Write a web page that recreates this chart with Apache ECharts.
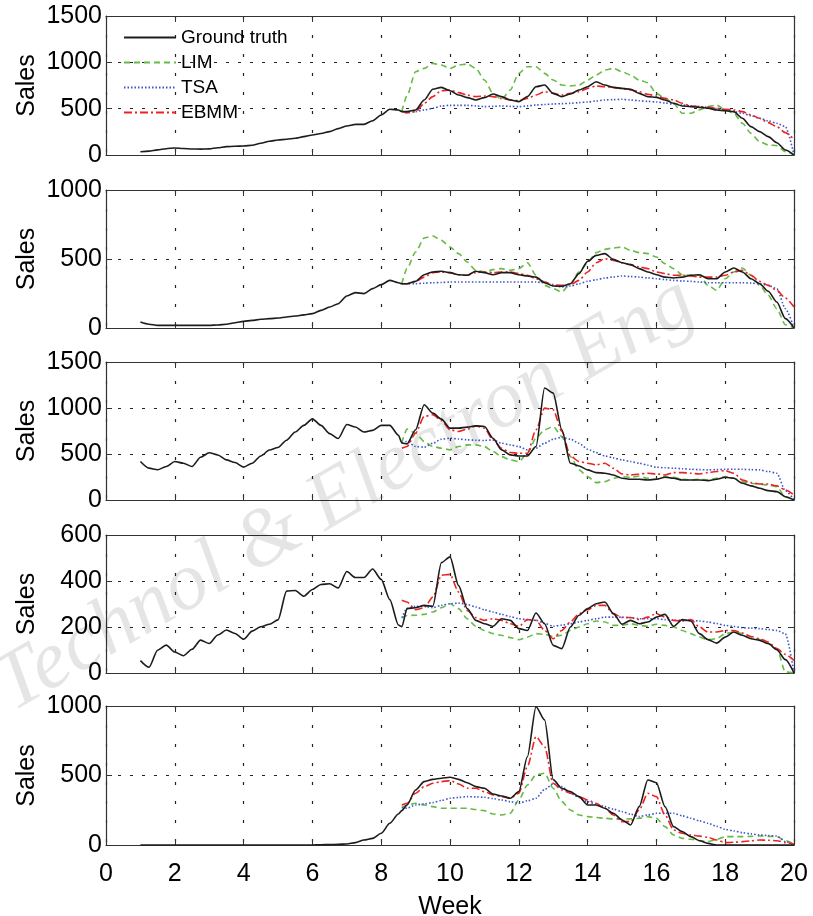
<!DOCTYPE html>
<html style="height: 100%">
<head>
<meta charset="utf-8">
<title>Sales forecast panels</title>
<script src="https://cdn.jsdelivr.net/npm/echarts@6/dist/echarts.min.js"></script>
</head>
<body style="height: 100%; margin: 0; background: #fff">
<div id="target" style="width: 813px; height: 916px"></div>
<script>
// week positions of the ground truth curve and of the forecasts
const weeks = [1, 1.25, 1.5, 1.75, 2, 2.25, 2.5, 2.75, 3, 3.25, 3.5, 3.75, 4, 4.25, 4.5, 4.75,
    5, 5.25, 5.5, 5.75, 6, 6.25, 6.5, 6.75, 7, 7.25, 7.5, 7.75, 8, 8.25, 8.5, 8.6,
    8.75, 9, 9.25, 9.5, 9.75, 10, 10.25, 10.5, 10.75, 11, 11.25, 11.5, 11.75, 12, 12.25, 12.5,
    12.75, 13, 13.25, 13.5, 13.75, 14, 14.25, 14.5, 14.75, 15, 15.25, 15.5, 15.75, 16, 16.25,
    16.5, 16.75, 17, 17.25, 17.5, 17.75, 18, 18.25, 18.5, 18.75, 19, 19.25, 19.5, 19.75, 20];
const predWeeks = weeks.slice(31);   // forecasts start at week 8.6

const legendNames = ["Ground truth", "LIM", "TSA", "EBMM"];

// panel 1
const truth1 = [35, 42, 55, 68, 76, 70, 65, 63, 66, 78, 90, 95, 97, 105, 126, 148, 162, 170, 180, 198,
    216, 232, 252, 285, 313, 330, 331, 370, 432, 493, 486, 470,
    468, 486, 594, 709, 730, 694, 647, 619, 594, 619, 658, 630, 594, 576, 630, 737, 755, 665, 630, 658,
    701, 737, 791, 755, 730, 719, 709, 665, 630, 622, 594, 558, 529, 522, 514, 504, 486, 478, 468, 396,
    306, 252, 198, 133, 54, 0];
const lim1 = [470, 640, 899, 935, 989, 971, 935, 971, 982, 935, 809, 665, 601, 701, 881, 953, 953, 881,
    809, 755, 745, 755, 809, 863, 917, 935, 899, 863, 809, 780, 665, 611, 558, 450, 450, 486, 522, 540,
    486, 450, 342, 234, 144, 108, 101, 36, 0];
const tsa1 = [470, 457, 468, 486, 504, 529, 536, 536, 536, 530, 522, 525, 529, 525, 522, 530, 540, 545,
    550, 554, 558, 565, 572, 583, 594, 598, 601, 594, 586, 579, 572, 561, 550, 540, 529, 522, 514, 500,
    486, 468, 450, 423, 396, 369, 342, 306, 0];
const ebmm1 = [470, 457, 468, 558, 630, 694, 701, 673, 647, 630, 637, 630, 611, 594, 586, 611, 647, 683,
    665, 647, 665, 683, 719, 745, 737, 730, 719, 701, 683, 655, 637, 611, 594, 558, 529, 522, 514, 504,
    493, 486, 468, 432, 396, 349, 306, 241, 169];

// panel 2
const truth2 = [43, 27, 19, 19, 19, 19, 19, 19, 19, 22, 27, 38, 48, 55, 63, 68, 72, 80, 87, 95,
    104, 128, 152, 176, 232, 256, 249, 285, 314, 345, 328, 321,
    321, 338, 386, 406, 411, 401, 386, 382, 411, 401, 386, 401, 401, 386, 377, 369, 328, 304, 302, 321,
    394, 483, 526, 539, 497, 473, 459, 430, 406, 386, 369, 362, 369, 382, 386, 357, 357, 406, 435, 406,
    357, 321, 266, 188, 68, 0];
const lim2 = [321, 430, 551, 652, 667, 635, 587, 539, 478, 418, 406, 423, 430, 418, 430, 473, 382, 309,
    285, 261, 321, 406, 473, 546, 570, 580, 587, 563, 546, 539, 514, 466, 430, 386, 382, 382, 309, 273,
    357, 406, 435, 382, 309, 237, 140, 24, 0];
const tsa2 = [321, 321, 321, 325, 328, 330, 333, 333, 333, 333, 333, 333, 333, 333, 333, 333, 333, 328,
    309, 297, 304, 321, 338, 350, 362, 370, 377, 373, 369, 363, 357, 351, 345, 341, 338, 333, 328, 328,
    328, 328, 328, 325, 321, 309, 285, 140, 0];
const ebmm2 = [321, 321, 338, 369, 401, 406, 401, 386, 382, 401, 406, 401, 406, 406, 394, 382, 357, 333,
    314, 309, 314, 345, 406, 473, 502, 490, 473, 459, 442, 430, 406, 394, 382, 382, 377, 369, 369, 369,
    382, 406, 418, 382, 338, 309, 273, 217, 152];

// panel 3
const truth3 = [418, 346, 329, 364, 418, 400, 364, 464, 514, 489, 436, 407, 357, 400, 479, 543, 571, 650,
    739, 811, 882, 811, 721, 668, 821, 793, 739, 757, 811, 811, 704, 620,
    610, 763, 1035, 944, 879, 781, 781, 792, 806, 799, 672, 545, 490, 479, 479, 581, 1217, 1162, 763, 400,
    370, 327, 298, 291, 272, 236, 225, 225, 218, 225, 247, 236, 218, 218, 218, 211, 225, 247, 236, 182,
    153, 127, 102, 91, 36, 0];
const lim3 = [620, 770, 726, 636, 581, 563, 545, 581, 599, 599, 581, 527, 472, 436, 418, 508, 672, 763,
    799, 690, 472, 327, 254, 189, 200, 236, 254, 247, 261, 236, 225, 254, 247, 225, 218, 225, 218, 236,
    254, 236, 200, 182, 171, 163, 145, 30, 0];
const tsa3 = [620, 636, 581, 574, 617, 661, 672, 663, 654, 650, 647, 654, 617, 599, 581, 545, 563, 617,
    661, 683, 661, 617, 552, 515, 479, 458, 436, 418, 400, 378, 356, 350, 345, 340, 334, 330, 327, 330,
    334, 334, 334, 330, 327, 310, 291, 100, 0];
const ebmm3 = [563, 581, 726, 908, 926, 864, 763, 745, 770, 806, 781, 654, 563, 516, 508, 508, 763, 999,
    981, 745, 479, 418, 400, 381, 400, 345, 283, 272, 283, 291, 283, 272, 298, 298, 291, 283, 298, 309,
    320, 291, 218, 189, 174, 174, 153, 109, 54];

// panel 4
const truth4 = [54, 25, 99, 121, 91, 75, 103, 143, 128, 165, 187, 172, 147, 182, 201, 212, 231, 356,
    359, 334, 363, 385, 388, 370, 441, 415, 415, 452, 407, 319, 209, 201,
    280, 284, 294, 290, 480, 505, 380, 280, 229, 214, 203, 236, 229, 193, 185, 261, 214, 120, 106, 200,
    251, 280, 301, 309, 258, 212, 229, 214, 222, 243, 255, 203, 232, 226, 171, 145, 130, 156, 178, 164,
    149, 142, 128, 101, 58, 0];
const lim4 = [240, 250, 251, 255, 265, 284, 301, 280, 236, 203, 185, 171, 164, 154, 145, 156, 171, 168,
    159, 164, 185, 200, 214, 226, 222, 207, 207, 214, 207, 203, 212, 207, 200, 185, 171, 156, 145, 149,
    171, 178, 171, 156, 145, 128, 106, 4, 0];
const tsa4 = [240, 280, 290, 290, 284, 294, 301, 304, 298, 287, 275, 265, 255, 245, 236, 232, 229, 216,
    203, 208, 214, 222, 229, 236, 243, 243, 243, 240, 236, 236, 236, 232, 229, 229, 229, 226, 222, 215,
    207, 202, 197, 195, 193, 189, 185, 170, 0];
const ebmm4 = [316, 309, 275, 284, 330, 425, 429, 352, 272, 241, 229, 236, 229, 214, 203, 232, 229, 185,
    149, 185, 222, 258, 275, 294, 294, 258, 241, 241, 232, 243, 258, 243, 229, 226, 232, 200, 178, 178,
    185, 185, 174, 159, 149, 135, 106, 81, 55];

// panel 5
const truth5 = [0, 0, 0, 0, 0, 0, 0, 0, 0, 0, 0, 0, 0, 0, 0, 0, 0, 0, 0, 0,
    0, 2, 3, 5, 7, 17, 36, 48, 84, 156, 223, 247,
    288, 396, 456, 472, 480, 487, 472, 448, 420, 408, 367, 353, 336, 384, 635, 995, 900, 470, 408, 384,
    348, 288, 288, 264, 228, 180, 144, 276, 468, 448, 276, 132, 96, 60, 31, 12, 0, 0, 0, 0,
    0, 0, 0, 0, 0, 0];
const lim5 = [270, 288, 300, 288, 276, 264, 264, 264, 264, 255, 247, 223, 216, 228, 324, 432, 504, 516,
    408, 312, 252, 216, 204, 198, 192, 188, 185, 188, 192, 204, 192, 132, 72, 48, 41, 32, 24, 40,
    60, 60, 60, 62, 65, 62, 60, 31, 7];
const tsa5 = [270, 264, 288, 296, 305, 320, 336, 342, 348, 346, 343, 334, 324, 312, 300, 318, 336, 400,
    440, 420, 372, 342, 312, 294, 276, 258, 240, 222, 204, 216, 228, 228, 228, 210, 192, 174, 156, 134,
    113, 101, 89, 80, 72, 68, 65, 24, 0];
const ebmm5 = [288, 300, 372, 420, 444, 456, 463, 439, 408, 408, 384, 360, 348, 336, 372, 564, 779, 707,
    444, 396, 372, 348, 324, 300, 264, 216, 168, 168, 252, 372, 348, 216, 108, 84, 72, 64, 55, 36,
    17, 20, 24, 30, 36, 34, 31, 17, 7];

const panels = [
    { truth: truth1, lim: lim1, tsa: tsa1, ebmm: ebmm1, max: 1500, step: 500 },
    { truth: truth2, lim: lim2, tsa: tsa2, ebmm: ebmm2, max: 1000, step: 500 },
    { truth: truth3, lim: lim3, tsa: tsa3, ebmm: ebmm3, max: 1500, step: 500 },
    { truth: truth4, lim: lim4, tsa: tsa4, ebmm: ebmm4, max: 600, step: 200 },
    { truth: truth5, lim: lim5, tsa: tsa5, ebmm: ebmm5, max: 1000, step: 500 },
];

const gridTops = [16, 190, 362, 535, 706];
const gridHeights = [139, 138, 138, 138, 139];

let chart = echarts.init(document.getElementById('target'), null, { renderer: 'canvas' });

const font = '"Liberation Sans", Arial, sans-serif';
const axisColor = '#333';

let Pairs = (xs, ys) => xs.map((x, i) => [x, ys[i]]);

let grids = [];
let xAxes = [];
let yAxes = [];
let series = [];
let graphics = [];

panels.forEach((p, i) => {
    let last = (i == panels.length - 1);

    // fixed rectangles: don't let labels shrink the plot area
    grids.push({
        left: 106, right: 19, top: gridTops[i], height: gridHeights[i],
        outerBoundsMode: 'none', containLabel: false,
    });

    // y axis title, kept at the same x for every panel
    graphics.push({
        type: 'text',
        x: 27,
        y: gridTops[i] + gridHeights[i] / 2,
        rotation: Math.PI / 2,
        silent: true,
        style: {
            text: 'Sales',
            font: '25px "Liberation Sans", Arial, sans-serif',
            fill: '#000',
            textAlign: 'center', textVerticalAlign: 'middle',
            align: 'center', verticalAlign: 'middle',
        },
    });

    // bottom x axis (labels only on the last panel)
    xAxes.push({
        gridIndex: i,
        type: 'value',
        min: 0, max: 20, interval: 2,
        axisLine: { show: true, onZero: false, lineStyle: { color: axisColor, width: 1.2 } },
        axisTick: { show: true, inside: true, length: 6, lineStyle: { color: axisColor } },
        axisLabel: {
            show: last, margin: 17, color: '#000', fontSize: 25, fontFamily: font,
            formatter: v => String(v),
        },
        splitLine: { show: true, lineStyle: { color: '#222', type: [3, 16], width: 1.2 } },
        name: last ? 'Week' : '',
        nameLocation: 'middle',
        nameGap: 50,
        nameTextStyle: { color: '#000', fontSize: 25, fontFamily: font },
    });
    // top x axis, box + ticks
    xAxes.push({
        gridIndex: i,
        type: 'value',
        position: 'top',
        min: 0, max: 20, interval: 2,
        axisLine: { show: true, onZero: false, lineStyle: { color: axisColor, width: 1.2 } },
        axisTick: { show: true, inside: true, length: 6, lineStyle: { color: axisColor } },
        axisLabel: { show: false },
        splitLine: { show: false },
    });

    yAxes.push({
        gridIndex: i,
        type: 'value',
        min: 0, max: p.max, interval: p.step,
        axisLine: { show: true, onZero: false, lineStyle: { color: axisColor, width: 1.2 } },
        axisTick: { show: true, inside: true, length: 6, lineStyle: { color: axisColor } },
        axisLabel: {
            margin: 4, color: '#000', fontSize: 25, fontFamily: font,
            formatter: v => String(v),
        },
        splitLine: { show: true, lineStyle: { color: '#222', type: [3, 9], width: 1.2 } },
    });
    yAxes.push({
        gridIndex: i,
        type: 'value',
        position: 'right',
        min: 0, max: p.max, interval: p.step,
        axisLine: { show: true, onZero: false, lineStyle: { color: axisColor, width: 1.2 } },
        axisTick: { show: true, inside: true, length: 6, lineStyle: { color: axisColor } },
        axisLabel: { show: false },
        splitLine: { show: false },
    });

    let common = {
        type: 'line',
        xAxisIndex: 2 * i,
        yAxisIndex: 2 * i,
        symbol: 'none',
        showSymbol: false,
        smooth: 0.25,
        smoothMonotone: 'x',
        silent: true,
    };

    series.push(Object.assign({}, common, {
        name: 'Ground truth', z: 6,
        data: Pairs(weeks, p.truth),
        lineStyle: { color: '#1c1c1c', width: 1.6, type: 'solid' },
        itemStyle: { color: '#1c1c1c' },
    }));
    series.push(Object.assign({}, common, {
        name: 'LIM', z: 3,
        data: Pairs(predWeeks, p.lim),
        lineStyle: { color: '#66bb44', width: 1.6, type: [6, 4] },
        itemStyle: { color: '#66bb44' },
    }));
    series.push(Object.assign({}, common, {
        name: 'TSA', z: 4,
        data: Pairs(predWeeks, p.tsa),
        lineStyle: { color: '#3a55c8', width: 1.6, type: [1.5, 2] },
        itemStyle: { color: '#3a55c8' },
    }));
    series.push(Object.assign({}, common, {
        name: 'EBMM', z: 5,
        data: Pairs(predWeeks, p.ebmm),
        lineStyle: { color: '#ee2222', width: 1.6, type: [8, 3, 2, 3] },
        itemStyle: { color: '#ee2222' },
    }));
});

// watermark across the panels
graphics.push({
    type: 'text',
    x: 345,
    y: 495,
    rotation: Math.PI / 6,
    silent: true,
    z: 100,
    style: {
        text: 'Technol & Electron Eng',
        font: 'italic 82px "Liberation Serif", "Times New Roman", serif',
        fill: 'rgba(0, 0, 0, 0.10)',
        textAlign: 'center', textVerticalAlign: 'middle',
        align: 'center', verticalAlign: 'middle',
    },
});

let option = {
    animation: false,
    backgroundColor: '#fff',
    grid: grids,
    xAxis: xAxes,
    yAxis: yAxes,
    legend: {
        data: legendNames,
        orient: 'vertical',
        left: 118,
        top: 23,
        itemWidth: 52,
        itemHeight: 14,
        itemGap: 6,
        selectedMode: false,
        itemStyle: { opacity: 0 },
        textStyle: { color: '#000', fontSize: 19, fontFamily: font, lineHeight: 18 },
    },
    graphic: graphics,
    series: series,
};

chart.setOption(option);
</script>
</body>
</html>
